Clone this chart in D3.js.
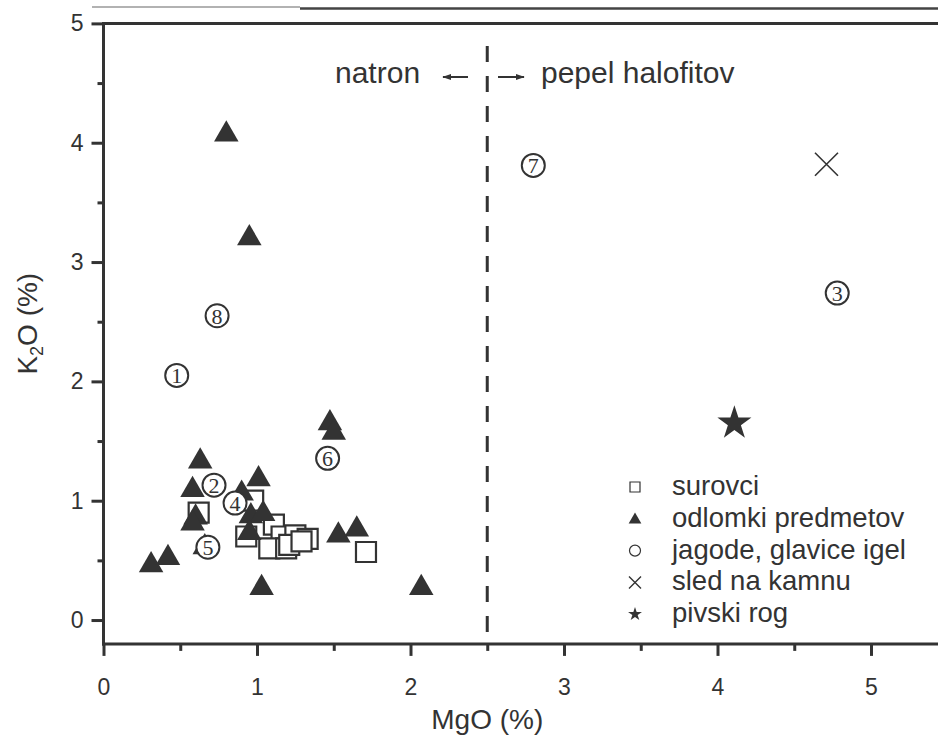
<!DOCTYPE html>
<html>
<head>
<meta charset="utf-8">
<script src="https://cdn.jsdelivr.net/npm/d3@7"></script>
<style>
  html, body { margin: 0; padding: 0; background: #fff; }
  svg { display: block; }
</style>
</head>
<body>
<svg id="chart" width="938" height="737"></svg>
<script>
// ---------- data ----------
const xTicks = [0, 1, 2, 3, 4, 5];
const yTicks = [0, 1, 2, 3, 4, 5];
const xMinorTicks = [0.5, 1.5, 2.5, 3.5, 4.5, 5.5];
const yMinorTicks = [0.5, 1.5, 2.5, 3.5, 4.5];

// surovci (open squares): [MgO, K2O]
const surovci = [
  [0.62, 0.90], [0.975, 1.00], [0.93, 0.70], [1.11, 0.80], [1.16, 0.70],
  [1.25, 0.71], [1.33, 0.68], [1.08, 0.60], [1.19, 0.60], [1.21, 0.63],
  [1.29, 0.66], [1.71, 0.57]
];
// odlomki predmetov (filled triangles)
const odlomki = [
  [0.80, 4.07], [0.95, 3.20], [1.475, 1.65], [1.50, 1.57], [0.63, 1.33],
  [0.58, 1.09], [1.01, 1.18], [0.90, 1.06], [0.60, 0.86], [0.58, 0.81],
  [0.96, 0.87], [1.04, 0.89], [0.95, 0.73], [0.31, 0.46], [0.42, 0.52],
  [1.03, 0.27], [1.53, 0.71], [1.65, 0.76], [2.07, 0.27], [0.66, 0.61]
];
// jagode, glavice igel (numbered circles): [MgO, K2O, label]
const jagode = [
  [0.477, 2.05, "1"], [0.72, 1.13, "2"], [4.78, 2.74, "3"], [0.857, 0.98, "4"],
  [0.68, 0.61, "5"], [1.46, 1.355, "6"], [2.80, 3.81, "7"], [0.74, 2.55, "8"]
];
// sled na kamnu (cross)
const sled = [[4.71, 3.82]];
// pivski rog (star)
const pivski = [[4.11, 1.65]];

const legendLabels = ["surovci", "odlomki predmetov", "jagode, glavice igel", "sled na kamnu", "pivski rog"];
const legendKinds = ["square", "triangle", "circle", "cross", "star"];

const boundaryMgO = 2.5;
const xDomain = [0, 5.5];
const yDomain = [-0.2, 5];

// ---------- setup ----------
const ink = "#333";
const svg = d3.select("#chart");
const x = d3.scaleLinear().domain(xDomain).range([103.5, 947.75]);
const y = d3.scaleLinear().domain(yDomain).range([643.9, 23.4]);
const font = "'Liberation Sans', Arial, sans-serif";

// scanning artifact line at the very top
svg.append("line").attr("x1", 92).attr("x2", 300).attr("y1", 7).attr("y2", 7)
  .attr("stroke", "#999").attr("stroke-width", 1.5);
svg.append("line").attr("x1", 300).attr("x2", 938).attr("y1", 8.5).attr("y2", 8.5)
  .attr("stroke", "#444").attr("stroke-width", 2.5);

// ---------- axes ----------
function styleAxis(g) {
  g.select(".domain").remove();
  g.selectAll(".tick line").attr("stroke", ink).attr("stroke-width", 3);
  g.selectAll(".tick text").attr("fill", ink).attr("font-family", font).attr("font-size", 23);
}
// y major
svg.append("g").attr("transform", `translate(${x(0)},0)`)
  .call(d3.axisLeft(y).tickValues(yTicks).tickSize(12).tickPadding(8).tickFormat(d3.format("d")))
  .call(styleAxis);
// y minor
svg.append("g").attr("transform", `translate(${x(0)},0)`)
  .call(d3.axisLeft(y).tickValues(yMinorTicks).tickSize(6).tickFormat(""))
  .call(styleAxis);
// x major
svg.append("g").attr("transform", `translate(0,${y(yDomain[0])})`)
  .call(d3.axisBottom(x).tickValues(xTicks).tickSize(12).tickPadding(23).tickFormat(d3.format("d")))
  .call(styleAxis);
// x minor
svg.append("g").attr("transform", `translate(0,${y(yDomain[0])})`)
  .call(d3.axisBottom(x).tickValues(xMinorTicks).tickSize(7).tickFormat(""))
  .call(styleAxis);

// frame lines
svg.append("line").attr("x1", x(0)).attr("x2", x(0)).attr("y1", y(5) - 1.5).attr("y2", y(yDomain[0]) + 1.5)
  .attr("stroke", ink).attr("stroke-width", 3);
svg.append("line").attr("x1", x(0) - 1.5).attr("x2", 938).attr("y1", y(yDomain[0])).attr("y2", y(yDomain[0]))
  .attr("stroke", ink).attr("stroke-width", 3);
svg.append("line").attr("x1", x(0) - 1.5).attr("x2", 938).attr("y1", y(5)).attr("y2", y(5))
  .attr("stroke", ink).attr("stroke-width", 3);

// axis titles
svg.append("text").attr("x", x(boundaryMgO)).attr("y", 729)
  .attr("text-anchor", "middle").attr("font-family", font).attr("font-size", 28).attr("fill", ink)
  .text("MgO (%)");
const yt = svg.append("text").attr("transform", `translate(37,${(y(0) + y(5)) / 2 + 2}) rotate(-90)`)
  .attr("text-anchor", "middle").attr("font-family", font).attr("font-size", 28).attr("fill", ink);
yt.append("tspan").text("K");
yt.append("tspan").attr("font-size", 18).attr("dy", 6).text("2");
yt.append("tspan").attr("dy", -6).text("O (%)");

// boundary dashed line
svg.append("line").attr("x1", x(boundaryMgO)).attr("x2", x(boundaryMgO))
  .attr("y1", 46).attr("y2", y(yDomain[0]))
  .attr("stroke", ink).attr("stroke-width", 3).attr("stroke-dasharray", "16,14");

// region labels and arrows
svg.append("text").attr("x", 335).attr("y", 83).attr("font-family", font).attr("font-size", 30)
  .attr("fill", ink).text("natron");
svg.append("text").attr("x", 541).attr("y", 83).attr("font-family", font).attr("font-size", 30)
  .attr("fill", ink).text("pepel halofitov");
const defs = svg.append("defs");
defs.append("marker").attr("id", "ah").attr("viewBox", "0 0 10 10").attr("refX", 9).attr("refY", 5)
  .attr("markerWidth", 4.5).attr("markerHeight", 4.5).attr("orient", "auto")
  .append("path").attr("d", "M0,1.5L10,5L0,8.5Z").attr("fill", ink);
svg.append("line").attr("x1", 468).attr("x2", 443).attr("y1", 77).attr("y2", 77)
  .attr("stroke", ink).attr("stroke-width", 2).attr("marker-end", "url(#ah)");
svg.append("line").attr("x1", 498).attr("x2", 524).attr("y1", 77).attr("y2", 77)
  .attr("stroke", ink).attr("stroke-width", 2).attr("marker-end", "url(#ah)");

// ---------- marks ----------
const plot = svg.append("g");
// squares
plot.selectAll(".sq").data(surovci).join("path").attr("class", "sq")
  .attr("transform", d => `translate(${x(d[0])},${y(d[1])})`)
  .attr("d", d3.symbol(d3.symbolSquare, 400))
  .attr("fill", "#fff").attr("stroke", ink).attr("stroke-width", 2.2);
// triangles
plot.selectAll(".tri").data(odlomki).join("path").attr("class", "tri")
  .attr("transform", d => `translate(${x(d[0])},${y(d[1])})`)
  .attr("d", d3.symbol(d3.symbolTriangle, 260))
  .attr("fill", ink);
// numbered circles
const cg = plot.selectAll(".jc").data(jagode).join("g").attr("class", "jc")
  .attr("transform", d => `translate(${x(d[0])},${y(d[1])})`);
cg.append("circle").attr("r", 11.5).attr("fill", "#fff").attr("stroke", ink).attr("stroke-width", 2);
cg.append("text").attr("text-anchor", "middle").attr("dy", "0.36em")
  .attr("font-family", "'Liberation Serif', 'Times New Roman', serif").attr("font-size", 22)
  .attr("fill", ink).text(d => d[2]);
// cross
const crossPath = r => `M${-r},${-r}L${r},${r}M${-r},${r}L${r},${-r}`;
plot.selectAll(".cr").data(sled).join("path").attr("class", "cr")
  .attr("transform", d => `translate(${x(d[0])},${y(d[1])})`)
  .attr("d", crossPath(11.5)).attr("stroke", ink).attr("stroke-width", 1.6).attr("fill", "none");
// star
plot.selectAll(".st").data(pivski).join("path").attr("class", "st")
  .attr("transform", d => `translate(${x(d[0])},${y(d[1])})`)
  .attr("d", d3.symbol(d3.symbolStar, 360)).attr("fill", ink);

// ---------- legend ----------
const lg = svg.append("g").attr("transform", "translate(635,487)");
const rows = lg.selectAll(".lr").data(legendLabels).join("g").attr("class", "lr")
  .attr("transform", (d, i) => `translate(0,${i * 31.8})`);
rows.each(function (d, i) {
  const g = d3.select(this);
  const k = legendKinds[i];
  if (k === "square") {
    g.append("path").attr("d", d3.symbol(d3.symbolSquare, 100)).attr("fill", "#fff")
      .attr("stroke", ink).attr("stroke-width", 1.2);
  } else if (k === "triangle") {
    g.append("path").attr("d", d3.symbol(d3.symbolTriangle, 70)).attr("fill", ink)
      .attr("transform", "translate(0,1)");
  } else if (k === "circle") {
    g.append("circle").attr("r", 5.5).attr("fill", "#fff").attr("stroke", ink).attr("stroke-width", 1.2);
  } else if (k === "cross") {
    g.append("path").attr("d", crossPath(6)).attr("stroke", ink).attr("stroke-width", 1.4).attr("fill", "none");
  } else {
    g.append("path").attr("d", d3.symbol(d3.symbolStar, 60)).attr("fill", ink);
  }
  g.append("text").attr("x", 37).attr("y", 8).attr("font-family", font).attr("font-size", 27.5)
    .attr("fill", ink).text(d);
});
</script>
</body>
</html>
